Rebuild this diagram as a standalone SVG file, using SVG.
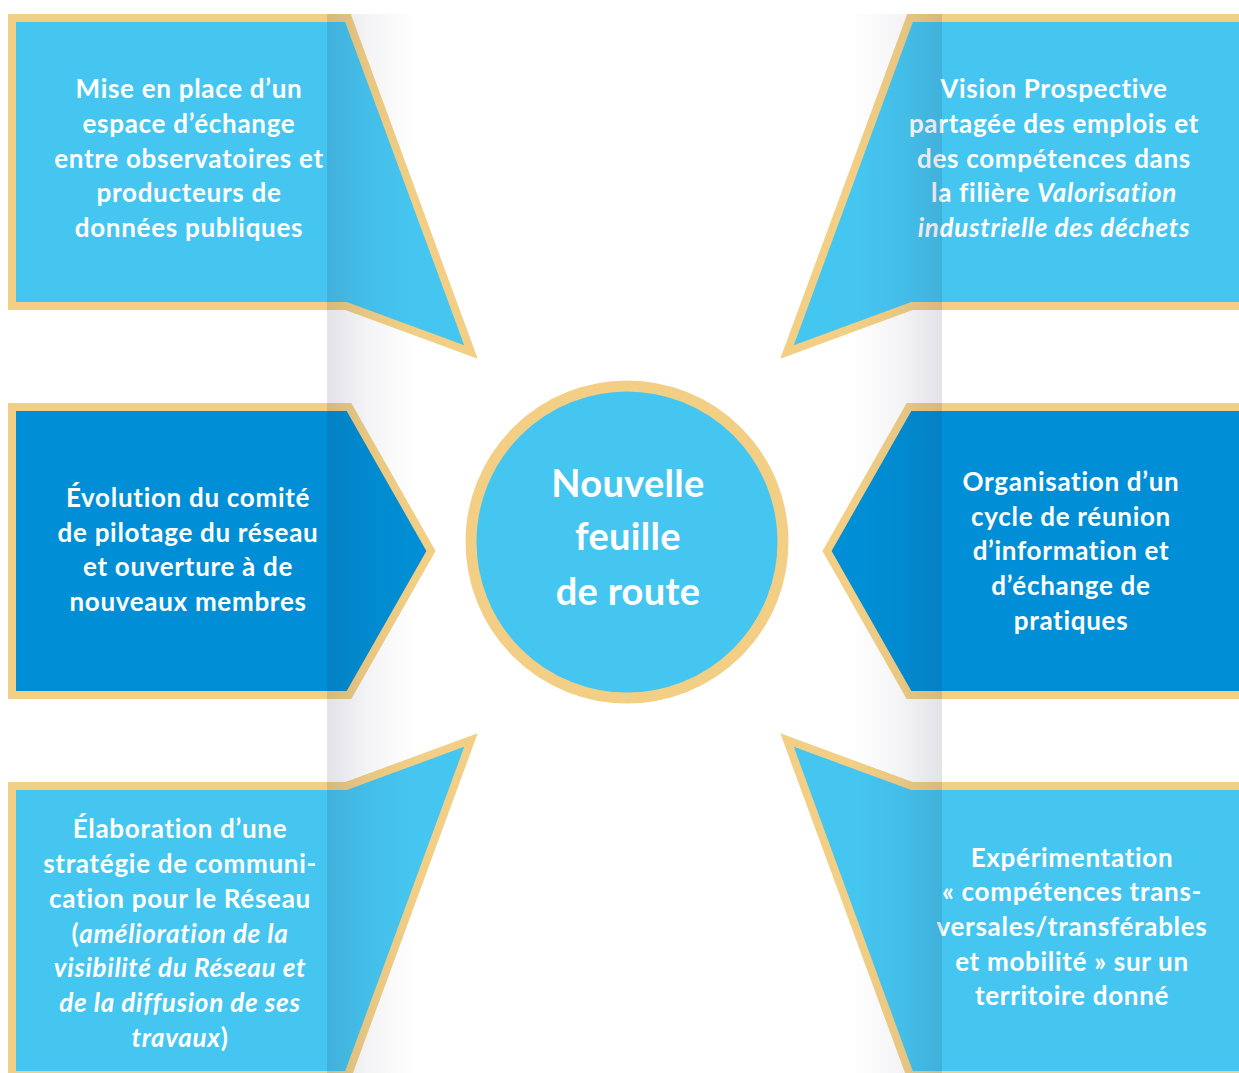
<svg xmlns="http://www.w3.org/2000/svg" width="1239" height="1073" viewBox="0 0 1239 1073">
  <defs>
    <style>
      .box { stroke: #f2cf85; stroke-width: 8; stroke-linejoin: miter; }
      .light { fill: #45c6f1; }
      .dark { fill: #008fd6; }
      .label { font-family: Lato, "Liberation Sans", sans-serif; font-weight: 700; font-size: 26px; letter-spacing: 0.7px; fill: #ffffff; text-anchor: middle; }
      .hub { font-family: Lato, "Liberation Sans", sans-serif; font-weight: 700; font-size: 38px; letter-spacing: 0.3px; fill: #ffffff; text-anchor: middle; }
      .it { font-style: italic; }
    </style>
    <!-- soft fold shading down each side of the centre -->
    <linearGradient id="foldLeft" x1="0" y1="0" x2="1" y2="0">
      <stop offset="0" stop-color="#23234a" stop-opacity="0.13"/>
      <stop offset="0.45" stop-color="#23234a" stop-opacity="0.05"/>
      <stop offset="1" stop-color="#23234a" stop-opacity="0"/>
    </linearGradient>
    <linearGradient id="foldRight" x1="1" y1="0" x2="0" y2="0">
      <stop offset="0" stop-color="#23234a" stop-opacity="0.13"/>
      <stop offset="0.45" stop-color="#23234a" stop-opacity="0.05"/>
      <stop offset="1" stop-color="#23234a" stop-opacity="0"/>
    </linearGradient>
  </defs>

  <rect width="1239" height="1073" fill="#ffffff"/>

  <!-- no drawn connectors: the pointed boxes aim at the hub -->
  <g id="connectors"/>

  <g id="node-espace-echange">
    <polygon class="box light" points="12,18 348,18 471,352 346,306 12,306"/>
    <text class="label" x="189" y="98">Mise en place d’un</text>
    <text class="label" x="189" y="133">espace d’échange</text>
    <text class="label" x="189" y="168">entre observatoires et</text>
    <text class="label" x="189" y="202">producteurs de</text>
    <text class="label" x="189" y="237">données publiques</text>
  </g>

  <g id="node-vision-prospective">
    <polygon class="box light" points="1250,18 910,18 787,352 912,306 1250,306"/>
    <text class="label" x="1054" y="98">Vision Prospective</text>
    <text class="label" x="1054" y="133">partagée des emplois et</text>
    <text class="label" x="1054" y="168">des compétences dans</text>
    <text class="label" x="1054" y="202">la filière <tspan class="it">Valorisation</tspan></text>
    <text class="label it" x="1054" y="237">industrielle des déchets</text>
  </g>

  <g id="node-comite-pilotage">
    <polygon class="box dark" points="12,407 349,407 431,551 349,695 12,695"/>
    <text class="label" x="188" y="507">Évolution du comité</text>
    <text class="label" x="188" y="542">de pilotage du réseau</text>
    <text class="label" x="188" y="576">et ouverture à de</text>
    <text class="label" x="188" y="611">nouveaux membres</text>
  </g>

  <g id="node-cycle-reunion">
    <polygon class="box dark" points="1250,407 909,407 827,551 909,695 1250,695"/>
    <text class="label" x="1071" y="491">Organisation d’un</text>
    <text class="label" x="1071" y="526">cycle de réunion</text>
    <text class="label" x="1071" y="560">d’information et</text>
    <text class="label" x="1071" y="595">d’échange de</text>
    <text class="label" x="1071" y="630">pratiques</text>
  </g>

  <g id="node-communication">
    <polygon class="box light" points="12,1075 348,1075 471,740 346,786 12,786"/>
    <text class="label" x="180" y="838">Élaboration d’une</text>
    <text class="label" x="180" y="873">stratégie de communi-</text>
    <text class="label" x="180" y="908">cation pour le Réseau</text>
    <text class="label" x="180" y="943">(<tspan class="it">amélioration de la</tspan></text>
    <text class="label it" x="180" y="977">visibilité du Réseau et</text>
    <text class="label it" x="180" y="1012">de la diffusion de ses</text>
    <text class="label" x="180" y="1047"><tspan class="it">travaux</tspan>)</text>
  </g>

  <g id="node-competences">
    <polygon class="box light" points="1250,1075 910,1075 787,740 912,786 1250,786"/>
    <text class="label" x="1072" y="867">Expérimentation</text>
    <text class="label" x="1072" y="901">« compétences trans-</text>
    <text class="label" x="1072" y="936">versales/transférables</text>
    <text class="label" x="1072" y="971">et mobilité » sur un</text>
    <text class="label" x="1072" y="1005">territoire donné</text>
  </g>

  <!-- fold shading laid over the boxes -->
  <g id="fold-shading">
    <rect x="327" y="14" width="90" height="1059" fill="url(#foldLeft)"/>
    <rect x="852" y="14" width="90" height="1059" fill="url(#foldRight)"/>
  </g>

  <g id="node-hub">
    <circle cx="627" cy="542" r="156" fill="#45c6f1" stroke="#f2cf85" stroke-width="11"/>
    <text class="hub" x="628" y="497">Nouvelle</text>
    <text class="hub" x="628" y="550">feuille</text>
    <text class="hub" x="628" y="605">de route</text>
  </g>
</svg>
